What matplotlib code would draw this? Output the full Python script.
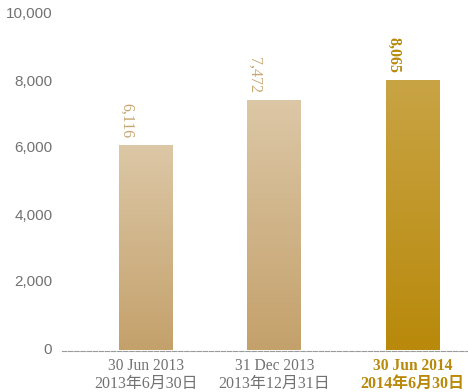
import numpy as np
import matplotlib
matplotlib.use("Agg")
import matplotlib.pyplot as plt
import matplotlib.transforms as mtransforms
from matplotlib.colors import to_rgb

# Data
dates_en = ["30 Jun 2013", "31 Dec 2013", "30 Jun 2014"]
dates_zh = ["2013年6月30日", "2013年12月31日", "2014年6月30日"]
values = [6116, 7472, 8065]
value_labels = ["6,116", "7,472", "8,065"]
y_ticks = [0, 2000, 4000, 6000, 8000, 10000]
y_tick_labels = ["0", "2,000", "4,000", "6,000", "8,000", "10,000"]

# Layout / style
xpos = [0.0, 1.0, 2.08]
bar_width = 0.42
tan_top, tan_bottom = "#dcc7a6", "#c4a16b"
gold_top, gold_bottom = "#c9a445", "#b8890a"
tan_text = "#c8a670"
gold_text = "#b8890a"
gray_text = "#727272"

W, H = 468, 392
fig = plt.figure(figsize=(W / 100, H / 100), dpi=100)
left, right = 62 / W, 1.0
bottom, top = (H - 350) / H, (H - 15) / H
ax = fig.add_axes([left, bottom, right - left, top - bottom])

serif = ["Liberation Serif", "Noto Sans CJK SC", "DejaVu Sans"]

for i, (x, v) in enumerate(zip(xpos, values)):
    highlight = i == len(values) - 1
    c_top = to_rgb(gold_top if highlight else tan_top)
    c_bot = to_rgb(gold_bottom if highlight else tan_bottom)
    bar = ax.bar(x, v, width=bar_width, color=c_bot, linewidth=0, zorder=2)[0]
    # vertical wash: lighter near the top, deeper at the base
    t = np.linspace(0, 1, 256)[:, None]
    grad = (1 - t) * np.array(c_bot) + t * np.array(c_top)
    grad = np.repeat(grad[:, None, :], 2, axis=1)
    im = ax.imshow(grad, origin="lower", aspect="auto",
                   extent=[x - bar_width / 2, x + bar_width / 2, 0, v],
                   zorder=3, interpolation="bilinear")
    im.set_clip_path(bar)
    ax.text(x - bar_width / 2 - 0.005, v + 200, value_labels[i],
            rotation=-90, ha="left", va="bottom",
            fontsize=11.5, family=serif,
            fontweight="bold" if highlight else "normal",
            color=gold_text if highlight else tan_text, zorder=4)

ax.set_xlim(-0.655, 2.51)
ax.set_ylim(0, 10000)

# Category labels (two lines), placed in pixels below the baseline
xtrans = ax.get_xaxis_transform()
for i, x in enumerate(xpos):
    highlight = i == len(xpos) - 1
    col = gold_text if highlight else gray_text
    fw = "bold" if highlight else "normal"
    for text, dy, fs in ((dates_en[i], -8, 11.2), (dates_zh[i], -26, 11.5)):
        tr = xtrans + mtransforms.ScaledTranslation(0, dy / 100, fig.dpi_scale_trans)
        ax.text(x, 0, text, ha="center", va="top", fontsize=fs,
                family=serif, color=col, fontweight=fw, transform=tr,
                clip_on=False)

ax.set_xticks([])
ax.set_yticks(y_ticks)
ax.set_yticklabels(y_tick_labels, family=["Liberation Sans", "DejaVu Sans"],
                   fontsize=11, color=gray_text)
ax.tick_params(axis="y", length=0, pad=7)
lift = mtransforms.ScaledTranslation(0, 2 / 100, fig.dpi_scale_trans)
for lbl in ax.get_yticklabels():
    lbl.set_transform(lbl.get_transform() + lift)

for s in ["top", "right", "left"]:
    ax.spines[s].set_visible(False)
ax.spines["bottom"].set_color("#9a9a9a")
ax.spines["bottom"].set_linewidth(0.8)
ax.spines["bottom"].set_linestyle((0, (4, 1.5)))
ax.spines["bottom"].set_position(("outward", 1))

fig.savefig("out.png", dpi=100)
